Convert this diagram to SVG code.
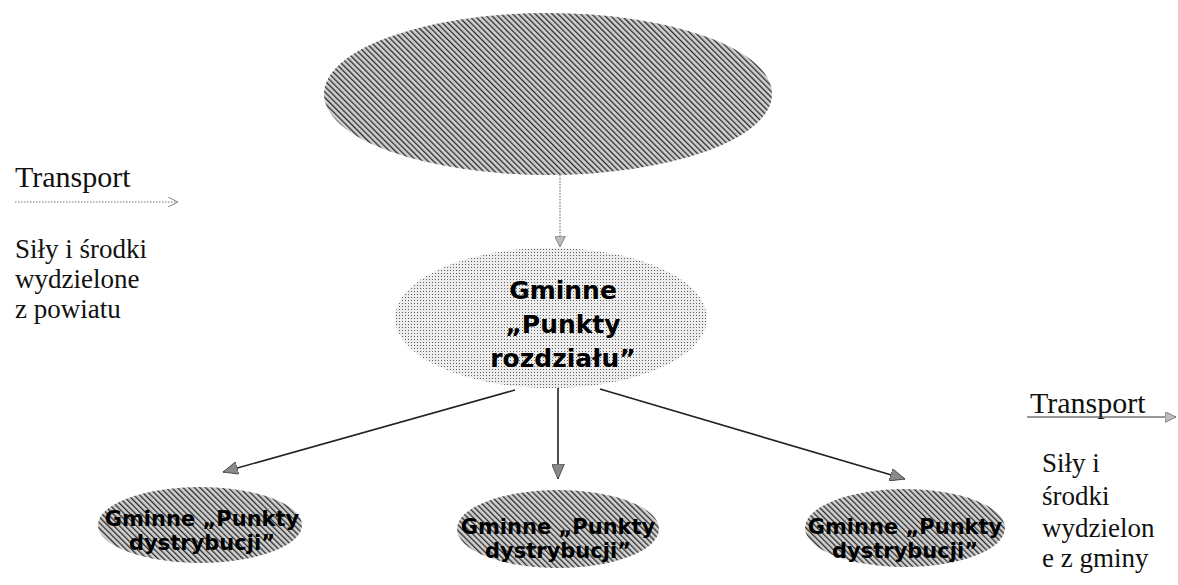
<svg xmlns="http://www.w3.org/2000/svg" width="1178" height="585" viewBox="0 0 1178 585">
<style>
.serif{font-family:"Liberation Serif","Times New Roman",serif;fill:#111}
.big{font-size:30px}
.body{font-size:27px}
.bold{font-family:"DejaVu Sans",Verdana,sans-serif;font-weight:bold;fill:#000;text-anchor:middle}
.mid{font-size:25px}
.small{font-size:21px}
.conn{stroke:#222;stroke-width:1.6;fill:none}
.dot{stroke:#777;stroke-width:1.2;stroke-dasharray:1.5 1.5;fill:none}
</style>
<defs>
<pattern id="hatch" width="4" height="4" patternUnits="userSpaceOnUse" patternTransform="rotate(-45)">
<rect width="4" height="4" fill="#b2b2b2"/>
<rect width="1.1" height="4" fill="#2a2a2a"/>
<rect x="2.4" width="1" height="4" fill="#ececec"/>
</pattern>
<pattern id="dots" width="3" height="3" patternUnits="userSpaceOnUse">
<rect width="3" height="3" fill="#ededed"/>
<rect width="1" height="1" fill="#5e5e5e"/>
</pattern>
<marker id="ah" viewBox="0 0 14 12" refX="14" refY="6" markerWidth="15" markerHeight="13" markerUnits="userSpaceOnUse" orient="auto">
<path d="M0,0 L14,6 L0,12 Z" fill="#8a8a8a" stroke="#444" stroke-width="0.8"/>
</marker>
<marker id="ahs" viewBox="0 0 10 10" refX="10" refY="5" markerWidth="11" markerHeight="11" markerUnits="userSpaceOnUse" orient="auto">
<path d="M0,0 L10,5 L0,10 Z" fill="#bdbdbd" stroke="#777" stroke-width="0.8"/>
</marker>
<marker id="aho" viewBox="0 0 10 10" refX="10" refY="5" markerWidth="10" markerHeight="10" markerUnits="userSpaceOnUse" orient="auto">
<path d="M0,0 L10,5 L0,10" fill="none" stroke="#888" stroke-width="1"/>
</marker>
</defs>

<g id="connectors">
<line class="dot" x1="560" y1="175" x2="560" y2="247" marker-end="url(#ahs)"/>
<line class="conn" x1="515" y1="390" x2="223" y2="472" marker-end="url(#ah)"/>
<line class="conn" x1="558" y1="388" x2="558" y2="479" marker-end="url(#ah)"/>
<line class="conn" x1="600" y1="389" x2="905" y2="479" marker-end="url(#ah)"/>
</g>

<g id="top">
<ellipse cx="548" cy="94" rx="224" ry="81" fill="url(#hatch)"/>
</g>

<g id="rozdzial">
<ellipse cx="551" cy="318" rx="156" ry="70" fill="url(#dots)"/>
<text class="bold mid" x="563" y="299">Gminne</text>
<text class="bold mid" x="563" y="333">„Punkty</text>
<text class="bold mid" x="563" y="367">rozdziału”</text>
</g>

<g id="dyst1">
<ellipse cx="200" cy="525" rx="102" ry="38" fill="url(#hatch)"/>
<text class="bold small" x="202" y="526">Gminne „Punkty</text>
<text class="bold small" x="202" y="550">dystrybucji”</text>
</g>

<g id="dyst2">
<ellipse cx="558" cy="529" rx="101" ry="39" fill="url(#hatch)"/>
<text class="bold small" x="558" y="534">Gminne „Punkty</text>
<text class="bold small" x="558" y="558">dystrybucji”</text>
</g>

<g id="dyst3">
<ellipse cx="905" cy="528" rx="100" ry="39" fill="url(#hatch)"/>
<text class="bold small" x="905" y="534">Gminne „Punkty</text>
<text class="bold small" x="905" y="558">dystrybucji”</text>
</g>

<g id="transport-left">
<text class="serif big" x="15" y="187">Transport</text>
<line class="dot" x1="15" y1="202" x2="178" y2="202" marker-end="url(#aho)"/>
</g>

<g id="sily-left">
<text class="serif body" x="15" y="258">Siły i środki</text>
<text class="serif body" x="15" y="288">wydzielone</text>
<text class="serif body" x="15" y="318">z powiatu</text>
</g>

<g id="transport-right">
<text class="serif big" x="1030" y="413">Transport</text>
<line x1="1027" y1="417" x2="1176" y2="417" stroke="#333" stroke-width="1.2" marker-end="url(#ahs)"/>
</g>

<g id="sily-right">
<text class="serif body" x="1042" y="472">Siły i</text>
<text class="serif body" x="1042" y="505">środki</text>
<text class="serif body" x="1042" y="537">wydzielon</text>
<text class="serif body" x="1042" y="567">e z gminy</text>
</g>
</svg>
